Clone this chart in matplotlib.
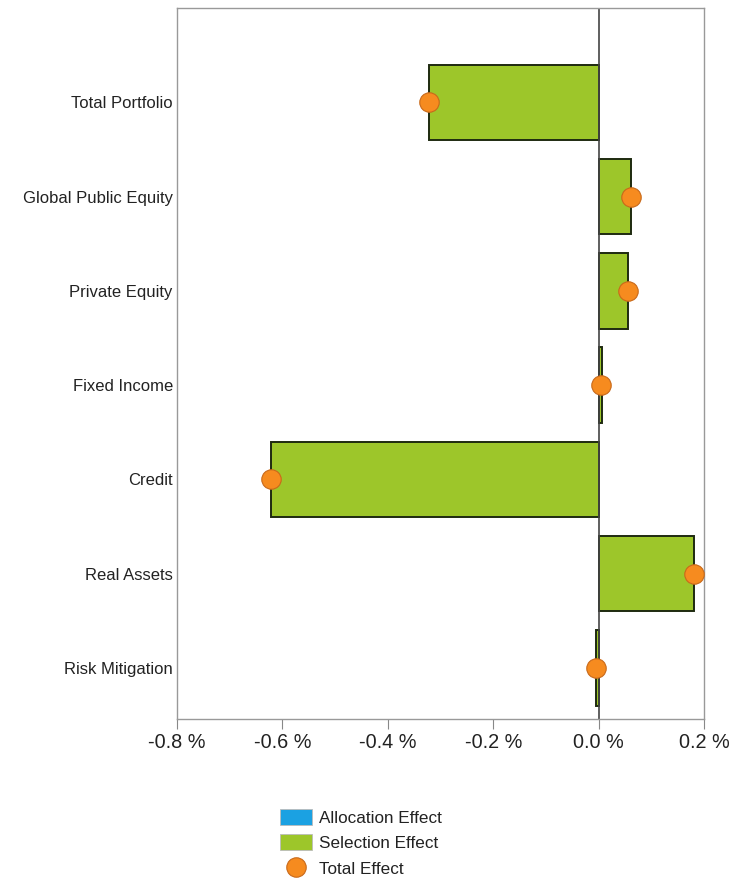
import matplotlib.pyplot as plt
import numpy as np
from matplotlib.patches import Patch
from matplotlib.lines import Line2D

plt.rcParams['font.family'] = ['Liberation Sans', 'DejaVu Sans']

# attribution by asset class, in percent
classes = ['Total Portfolio', 'Global Public Equity', 'Private Equity', 'Fixed Income',
           'Credit', 'Real Assets', 'Risk Mitigation']
allocation = [0.0, 0.0, 0.0, 0.0, 0.0, 0.0, 0.0]
selection = [-0.322, 0.061, 0.056, 0.006, -0.622, 0.180, -0.005]
total = [-0.322, 0.061, 0.056, 0.005, -0.622, 0.180, -0.006]
xticks = [-0.8, -0.6, -0.4, -0.2, 0.0, 0.2]

c_alloc = '#1ba1e2'
c_sel = '#9dc62a'
c_tot = '#f68b1f'

fig = plt.figure(figsize=(7.5, 8.8), dpi=100)
ax = fig.add_axes([0.236, 0.183, 0.703, 0.808])

y = np.arange(len(classes))[::-1]

ax.barh(y, allocation, height=0.8, color=c_alloc, edgecolor='#222222', linewidth=1.4)
ax.barh(y, selection, left=allocation, height=0.8, color=c_sel, edgecolor='#1e2a10',
        linewidth=1.4)
ax.axvline(0, color='#444444', linewidth=1.2, zorder=1)
ax.plot(total, y, 'o', color=c_tot, markeredgecolor='#c8691a', markersize=14,
        markeredgewidth=0.8, linestyle='none', zorder=5)

ax.set_xlim(-0.8, 0.2)
ax.set_ylim(-0.54, 7.0)
ax.set_yticks(y)
ax.set_yticklabels(classes, fontsize=12, color='#222222')
ax.tick_params(axis='y', length=0, pad=3)
ax.set_xticks(xticks)
ax.set_xticklabels(['%.1f %%' % v for v in xticks], fontsize=14.3, color='#222222')
ax.tick_params(axis='x', length=7, color='#888888', pad=3)
for s in ax.spines.values():
    s.set_color('#999999')
    s.set_linewidth(1.0)

handles = [Patch(facecolor=c_alloc, edgecolor='#bbbbbb', linewidth=0.6),
           Patch(facecolor=c_sel, edgecolor='#bbbbbb', linewidth=0.6),
           Line2D([], [], marker='o', color=c_tot, markeredgecolor='#c8691a',
                  markersize=14, markeredgewidth=0.8, linestyle='none')]
fig.legend(handles, ['Allocation Effect', 'Selection Effect', 'Total Effect'],
           loc='upper left', bbox_to_anchor=(0.364, 0.089), frameon=False, fontsize=12.3,
           labelcolor='#222222', handlelength=1.9, handleheight=1.1, labelspacing=0.5,
           handletextpad=0.4, borderaxespad=0)

fig.savefig('out.png', dpi=100)
